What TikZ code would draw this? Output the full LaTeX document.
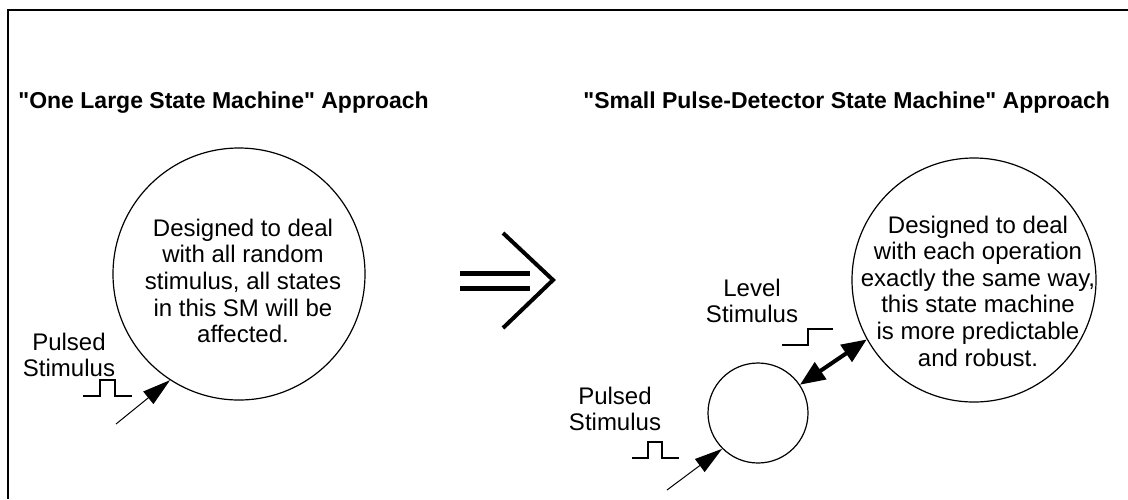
\documentclass[tikz,border=0pt]{standalone}
\usepackage{fontspec}
\setmainfont{Liberation Sans}
\usetikzlibrary{arrows.meta}
\usetikzlibrary{positioning}
\newcommand{\qmark}{\XeTeXglyph\XeTeXcharglyph"22\relax}

\begin{document}
\begin{tikzpicture}[x=0.5pt,y=-0.5pt,
    sm/.style={draw, circle, line width=0.6pt, inner sep=0pt},
    txt/.style={align=center, inner sep=0pt, font=\fontsize{12}{13.3}\selectfont},
    ttl/.style={anchor=base west, inner sep=0pt, font=\fontsize{11.5}{13}\selectfont\bfseries},
    pulse/.style={line width=1.2pt},
    stim/.style={-{Triangle[length=14pt,width=8pt]}, line width=0.5pt}
    ]
\useasboundingbox (0,0) rectangle (1128,499);

% frame
\draw [line width=1pt](8,499) -- (8,10) -- (1128,10);

% titles
\node [ttl] (ttlone) at (18,108) {\qmark One Large State Machine\qmark{} Approach};
\node [ttl] (ttltwo) at (583,108) {\qmark Small Pulse-Detector State Machine\qmark{} Approach};

% left: one large state machine
\node [sm, minimum size=126pt] (bigsm) at (239,274) {};
\node [txt] (bigtxt) at (243,281) {Designed to deal\\with all random\\stimulus, all states\\in this SM will be\\affected.};
\node [txt] (lpulsed) at (69,355) {Pulsed\\Stimulus};
\draw [pulse](83,396) -- (100,396) -- (100,380) -- (115,380) -- (115,396) -- (132,396);
\coordinate (ltail) at (116,424);
\draw [stim](ltail) -- (bigsm.237);

% the big implies arrow
\draw [line width=2.5pt](460,273) -- (530,273);
\draw [line width=2.5pt](460,288) -- (530,288);
\draw [line width=2pt, miter limit=20](503,233) -- (553,280) -- (503,328);

% right: pulse detector and main state machine
\node [sm, minimum size=122pt] (worksm) at (974,280) {};
\node [txt] (worktxt) at (978,291) {Designed to deal\\with each operation\\exactly the same way,\\this state machine\\is more predictable\\and robust.};
\node [sm, minimum size=50pt] (detsm) at (758,413) {};
\draw [{Triangle[length=12.5pt,width=10pt]}-{Triangle[length=12.5pt,width=10pt]}, line width=2pt](detsm.34) -- (worksm.209);

\node [txt] (level) at (752,301) {Level\\Stimulus};
\draw [pulse](782,345) -- (808,345) -- (808,329) -- (833,329);

\node [txt] (rpulsed) at (615,409) {Pulsed\\Stimulus};
\draw [pulse](632,458) -- (648,458) -- (648,442) -- (662,442) -- (662,458) -- (679,458);
\coordinate (rtail) at (667,490);
\draw [stim](rtail) -- (detsm.225);
\end{tikzpicture}
\end{document}
